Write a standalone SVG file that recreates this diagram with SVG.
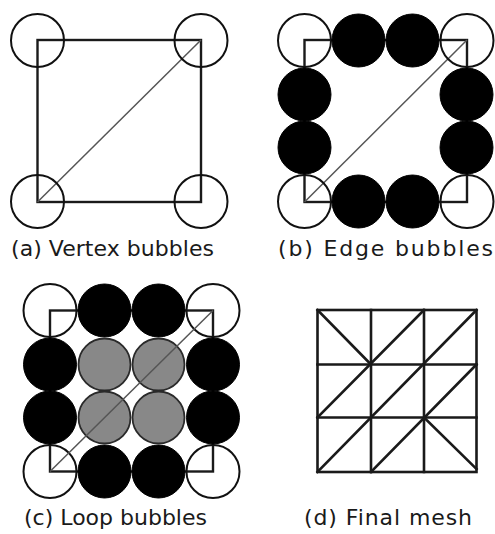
<svg xmlns="http://www.w3.org/2000/svg" width="495" height="534" viewBox="0 0 495 534">
<style>
.sq{fill:none;stroke:#1a1a1a;stroke-width:2.4}
.dg{fill:none;stroke:#555;stroke-width:1.5}
.ov{fill:none;stroke:#111;stroke-width:2}
.bk{fill:#000;stroke:#000;stroke-width:1}
.gy{fill:#888;stroke:#2a2a2a;stroke-width:1.8}
.ms{fill:none;stroke:#1a1a1a;stroke-width:2.6;stroke-linecap:square}
.lb{font-family:"DejaVu Sans","Liberation Sans",sans-serif;font-size:22px;fill:#1a1a1a}
</style>
<rect width="495" height="534" fill="#fff"/>
<g id="panel-a">
  <rect class="sq" x="37.5" y="40" width="163.5" height="162"/>
  <line class="dg" x1="37.5" y1="202" x2="201" y2="40"/>
  <circle class="ov" cx="37.5" cy="40.5" r="26.5"/>
  <circle class="ov" cx="201" cy="40.5" r="26.5"/>
  <circle class="ov" cx="37.5" cy="201.5" r="26.5"/>
  <circle class="ov" cx="201" cy="201.5" r="26.5"/>
  <text class="lb" x="11" y="256" textLength="203" lengthAdjust="spacing">(a) Vertex bubbles</text>
</g>
<g id="panel-b">
  <rect class="sq" x="304.5" y="40" width="162.5" height="162"/>
  <line class="dg" x1="304.5" y1="202" x2="467" y2="40"/>
  <circle class="ov" cx="304.5" cy="40.5" r="26.5"/>
  <circle class="ov" cx="467" cy="40.5" r="26.5"/>
  <circle class="ov" cx="304.5" cy="201.5" r="26.5"/>
  <circle class="ov" cx="467" cy="201.5" r="26.5"/>
  <circle class="bk" cx="358.5" cy="40.5" r="26.5"/>
  <circle class="bk" cx="412.5" cy="40.5" r="26.5"/>
  <circle class="bk" cx="358.5" cy="201.5" r="26.5"/>
  <circle class="bk" cx="412.5" cy="201.5" r="26.5"/>
  <circle class="bk" cx="304.5" cy="94.5" r="26.5"/>
  <circle class="bk" cx="304.5" cy="147.5" r="26.5"/>
  <circle class="bk" cx="466.5" cy="94.5" r="26.5"/>
  <circle class="bk" cx="466.5" cy="147.5" r="26.5"/>
  <text class="lb" x="278" y="256" textLength="215" lengthAdjust="spacing">(b) Edge bubbles</text>
</g>
<g id="panel-c">
  <rect class="sq" x="50" y="310.5" width="163" height="161"/>
  <circle class="ov" cx="50" cy="310.5" r="26.5"/>
  <circle class="ov" cx="213" cy="310.5" r="26.5"/>
  <circle class="ov" cx="50" cy="471.5" r="26.5"/>
  <circle class="ov" cx="213" cy="471.5" r="26.5"/>
  <circle class="bk" cx="104.5" cy="310.5" r="26.5"/>
  <circle class="bk" cx="158.5" cy="310.5" r="26.5"/>
  <circle class="bk" cx="104.5" cy="471.5" r="26.5"/>
  <circle class="bk" cx="158.5" cy="471.5" r="26.5"/>
  <circle class="bk" cx="50" cy="364.5" r="26.5"/>
  <circle class="bk" cx="50" cy="417.5" r="26.5"/>
  <circle class="bk" cx="213" cy="364.5" r="26.5"/>
  <circle class="bk" cx="213" cy="417.5" r="26.5"/>
  <circle class="gy" cx="104.5" cy="364.5" r="26"/>
  <circle class="gy" cx="158.5" cy="364.5" r="26"/>
  <circle class="gy" cx="104.5" cy="417.5" r="26"/>
  <circle class="gy" cx="158.5" cy="417.5" r="26"/>
  <line class="dg" x1="50" y1="471.5" x2="213" y2="310.5"/>
  <text class="lb" x="24" y="525" textLength="183" lengthAdjust="spacing">(c) Loop bubbles</text>
</g>
<g id="panel-d">
  <rect class="ms" x="317.5" y="310" width="159" height="162"/>
  <path class="ms" d="M371 310V472M424 310V472M317.5 364.5H476.5M317.5 417.5H476.5"/>
  <path class="ms" d="M317.5 310L371 364.5M317.5 417.5L424 310M317.5 472L476.5 310M371 472L476.5 364.5M424 417.5L476.5 469"/>
  <text class="lb" x="304" y="525" textLength="168" lengthAdjust="spacing">(d) Final mesh</text>
</g>
</svg>
